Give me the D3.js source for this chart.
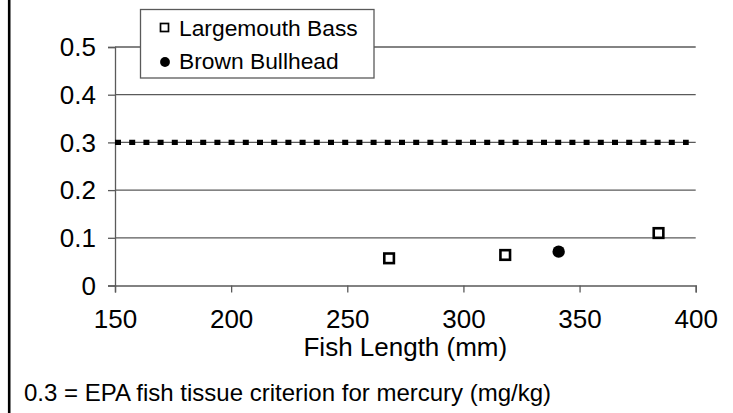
<!DOCTYPE html>
<html>
<head>
<meta charset="utf-8">
<script src="https://cdn.jsdelivr.net/npm/d3@7"></script>
<style>
    body { margin: 0; background: #fff; }
    text { font-family: "Liberation Sans", Arial, sans-serif; fill: #000; }
</style>
</head>
<body>
<svg id="fish-chart" width="733" height="413"></svg>
<script>
    // values
    var bassLength = [268, 318, 384];
    var bassMercury = [0.057, 0.064, 0.110];
    var bullheadLength = [341];
    var bullheadMercury = [0.071];
    var criterionLength = [150, 397];
    var criterionMercury = [0.3, 0.3];

    var xTicks = [150, 200, 250, 300, 350, 400];
    var yTicks = [0, 0.1, 0.2, 0.3, 0.4, 0.5];
    var legendNames = ["Largemouth Bass", "Brown Bullhead"];
    var noteText = "0.3 = EPA fish tissue criterion for mercury (mg/kg)";

    var svg = d3.select("#fish-chart"),
        width = +svg.attr("width"),
        height = +svg.attr("height");

    var x = d3.scaleLinear().domain([150, 400]).range([115, 695.7]);
    var y = d3.scaleLinear().domain([0, 0.5]).range([285.5, 47]);

    var gridColor = "#5a5a5a";

    // outer border, only the left edge shows
    svg.append("line")
        .attr("x1", 9.2).attr("x2", 9.2)
        .attr("y1", 0).attr("y2", height)
        .attr("stroke", "#000")
        .attr("stroke-width", 2.6);

    // gridlines
    svg.append("g").selectAll("line")
        .data(yTicks.slice(1))
        .enter().append("line")
        .attr("x1", x(150)).attr("x2", x(400))
        .attr("y1", function(d) { return y(d); })
        .attr("y2", function(d) { return y(d); })
        .attr("stroke", gridColor)
        .attr("stroke-width", 1.3);

    var yAxis = d3.axisLeft(y).tickValues(yTicks).tickSize(7).tickPadding(12)
        .tickFormat(function(d) { return d === 0 ? "0" : d3.format(".1f")(d); });
    var yG = svg.append("g")
        .attr("transform", "translate(" + x(150) + ",0)")
        .call(yAxis);

    var xAxis = d3.axisBottom(x).tickValues(xTicks).tickSize(7).tickPadding(17);
    var xG = svg.append("g")
        .attr("transform", "translate(0," + y(0) + ")")
        .call(xAxis);

    [yG, xG].forEach(function(g) {
        g.select(".domain").attr("stroke", gridColor).attr("stroke-width", 1.3);
        g.selectAll(".tick line").attr("stroke", gridColor).attr("stroke-width", 1.3);
        g.selectAll(".tick text")
            .attr("fill", "#000")
            .style("font-family", "'Liberation Sans', Arial, sans-serif")
            .style("font-size", "26px");
    });
    yG.selectAll(".tick text").attr("dy", "0.34em");
    xG.selectAll(".tick text").attr("dy", "0.71em");

    // criterion line
    var line = d3.line()
        .x(function(d, i) { return x(criterionLength[i]); })
        .y(function(d) { return y(d); });

    svg.append("path")
        .attr("d", line(criterionMercury))
        .attr("fill", "none")
        .attr("stroke", "#000")
        .attr("stroke-width", 5.4)
        .attr("stroke-dasharray", "6,8.2");

    // largemouth bass, open squares
    svg.append("g").selectAll("rect")
        .data(bassLength)
        .enter().append("rect")
        .attr("x", function(d) { return x(d) - 4.8; })
        .attr("y", function(d, i) { return y(bassMercury[i]) - 4.8; })
        .attr("width", 9.6).attr("height", 9.6)
        .attr("fill", "#fff")
        .attr("stroke", "#000")
        .attr("stroke-width", 2.6);

    // brown bullhead, filled circles
    svg.append("g").selectAll("circle")
        .data(bullheadLength)
        .enter().append("circle")
        .attr("cx", function(d) { return x(d); })
        .attr("cy", function(d, i) { return y(bullheadMercury[i]); })
        .attr("r", 6.2)
        .attr("fill", "#000");

    // legend
    var legend = svg.append("g");
    legend.append("rect")
        .attr("x", 140.5).attr("y", 9.5)
        .attr("width", 233.5).attr("height", 68.5)
        .attr("fill", "#fff")
        .attr("stroke", gridColor)
        .attr("stroke-width", 1.3);

    legend.append("rect")
        .attr("x", 160.5).attr("y", 23.5)
        .attr("width", 8).attr("height", 8)
        .attr("fill", "#fff")
        .attr("stroke", "#000")
        .attr("stroke-width", 1.7);

    legend.append("circle")
        .attr("cx", 165).attr("cy", 62)
        .attr("r", 4.9)
        .attr("fill", "#000");

    legend.selectAll("text.name")
        .data(legendNames)
        .enter().append("text")
        .attr("class", "name")
        .attr("x", 179)
        .attr("y", function(d, i) { return 35.5 + i * 33; })
        .style("font-size", "22.8px")
        .text(function(d) { return d; });

    // axis title and note
    svg.append("text")
        .attr("x", (x(150) + x(400)) / 2)
        .attr("y", 356)
        .style("text-anchor", "middle")
        .style("font-size", "26px")
        .text("Fish Length (mm)");

    svg.append("text")
        .attr("x", 24)
        .attr("y", 401)
        .style("font-size", "24px")
        .text(noteText);
</script>
</body>
</html>
